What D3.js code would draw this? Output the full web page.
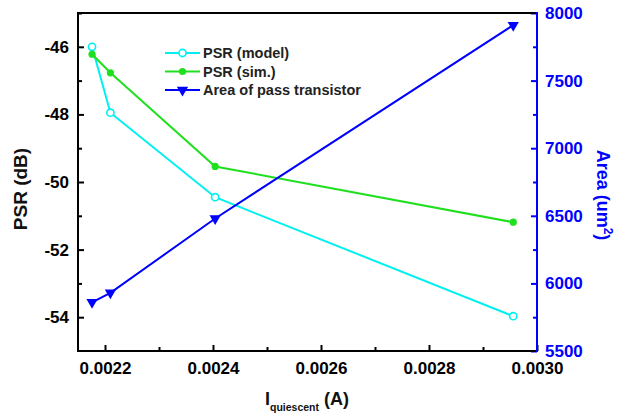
<!DOCTYPE html>
<html>
<head>
<meta charset="utf-8">
<script src="https://cdn.jsdelivr.net/npm/d3@7"></script>
<style>
  body { margin: 0; background: #fff; }
  svg text { font-family: Arial, "Liberation Sans", sans-serif; font-weight: bold; }
</style>
</head>
<body>
<svg id="chart" width="624" height="415"></svg>
<script>
// chart values
const current   = [0.002176, 0.00221, 0.002404, 0.002956];
const psrModel  = [-46.0, -47.95, -50.45, -53.97];
const psrSim    = [-46.22, -46.77, -49.54, -51.19];
const areaPass  = [5860, 5930, 6480, 7910];
const xTicks    = [0.0022, 0.0024, 0.0026, 0.0028, 0.0030];
const psrTicks  = [-54, -52, -50, -48, -46];
const areaTicks = [5500, 6000, 6500, 7000, 7500, 8000];
const legendNames = ["PSR (model)", "PSR (sim.)", "Area of pass transistor"];

const svg = d3.select("#chart");
const m = { left: 78, right: 537, top: 13, bottom: 351 };

const x  = d3.scaleLinear().domain([0.00215, 0.0030]).range([m.left, m.right]);
const yL = d3.scaleLinear().domain([-55, -45]).range([m.bottom, m.top]);
const yR = d3.scaleLinear().domain([5500, 8000]).range([m.bottom, m.top]);

const cyan = "#00f0f0", green = "#1ee01e", blue = "#0000ff";

// axes (ticks pointing inward)
function styleAxis(g, color) {
  g.select(".domain").remove();
  g.selectAll(".tick line").attr("stroke", color).attr("stroke-width", 2);
  g.selectAll(".tick text").attr("fill", color).style("font-size", "17px");
}

// minor ticks
const xMinor = d3.range(0.0023, 0.0030, 0.0002);
svg.append("g").attr("transform", `translate(0,${m.bottom})`)
  .call(d3.axisBottom(x).tickValues(xMinor).tickSize(-4).tickFormat(""))
  .call(g => styleAxis(g, "#000"));
svg.append("g").attr("transform", `translate(${m.left},0)`)
  .call(d3.axisLeft(yL).tickValues(d3.range(-53, -44, 2)).tickSize(-4).tickFormat(""))
  .call(g => styleAxis(g, "#000"));
svg.append("g").attr("transform", `translate(${m.right},0)`)
  .call(d3.axisRight(yR).tickValues(d3.range(5750, 8000, 500)).tickSize(-4).tickFormat(""))
  .call(g => styleAxis(g, blue));

svg.append("g").attr("transform", `translate(0,${m.bottom})`)
  .call(d3.axisBottom(x).tickValues(xTicks).tickSize(-6).tickPadding(10).tickFormat(d => d.toFixed(4)))
  .call(g => styleAxis(g, "#000"))
  .call(g => g.selectAll(".tick text").attr("dy", "0.75em"));
svg.append("g").attr("transform", `translate(${m.left},0)`)
  .call(d3.axisLeft(yL).tickValues(psrTicks).tickSize(-6).tickPadding(9).tickFormat(d => String(d)))
  .call(g => styleAxis(g, "#000"));
svg.append("g").attr("transform", `translate(${m.right},0)`)
  .call(d3.axisRight(yR).tickValues(areaTicks).tickSize(-6).tickPadding(8).tickFormat(d => String(d)))
  .call(g => styleAxis(g, blue));

// frame
svg.append("path")
  .attr("d", `M${m.right},${m.top}H${m.left}V${m.bottom}H${m.right}`)
  .attr("fill", "none").attr("stroke", "#000").attr("stroke-width", 2);
svg.append("line")
  .attr("x1", m.right).attr("x2", m.right).attr("y1", m.top - 1).attr("y2", m.bottom + 1)
  .attr("stroke", blue).attr("stroke-width", 2);

// series
const tri = d3.symbol().type(d3.symbolTriangle).size(55);
const series = [
  { vals: psrModel, y: yL, color: cyan, marker: "open" },
  { vals: psrSim,   y: yL, color: green, marker: "dot" },
  { vals: areaPass, y: yR, color: blue, marker: "tri" }
];

function drawMarker(g, px, py, s) {
  if (s.marker === "open") {
    g.append("circle").attr("cx", px).attr("cy", py).attr("r", 3.6)
      .attr("fill", "#fff").attr("stroke", s.color).attr("stroke-width", 1.6);
  } else if (s.marker === "dot") {
    g.append("circle").attr("cx", px).attr("cy", py).attr("r", 3.6).attr("fill", s.color);
  } else {
    g.append("path").attr("d", tri)
      .attr("transform", `translate(${px},${py}) rotate(180)`).attr("fill", s.color);
  }
}

series.forEach(s => {
  const line = d3.line().x((d, i) => x(current[i])).y(d => s.y(d));
  svg.append("path").datum(s.vals).attr("d", line)
    .attr("fill", "none").attr("stroke", s.color).attr("stroke-width", 2);
  const g = svg.append("g");
  s.vals.forEach((v, i) => drawMarker(g, x(current[i]), s.y(v), s));
});

// legend
const leg = svg.append("g");
series.forEach((s, i) => {
  const ly = 53 + i * 18.5;
  leg.append("line").attr("x1", 165).attr("x2", 200).attr("y1", ly).attr("y2", ly)
    .attr("stroke", s.color).attr("stroke-width", 2);
  drawMarker(leg, 182.5, ly, s);
  leg.append("text").attr("x", 203).attr("y", ly).attr("dy", "0.35em")
    .style("font-size", "14.5px").attr("fill", "#222").text(legendNames[i]);
});

// axis titles
svg.append("text")
  .attr("transform", `translate(27,189) rotate(-90)`)
  .attr("text-anchor", "middle").style("font-size", "19px").attr("fill", "#111")
  .text("PSR (dB)");

const rt = svg.append("text")
  .attr("transform", `translate(597,195) rotate(90)`)
  .attr("text-anchor", "middle").style("font-size", "18px").attr("fill", blue);
rt.append("tspan").text("Area (um");
rt.append("tspan").attr("dy", -7).style("font-size", "12px").text("2");
rt.append("tspan").attr("dy", 7).text(")");

const xt = svg.append("text")
  .attr("x", 307).attr("y", 405).attr("text-anchor", "middle")
  .style("font-size", "18px").attr("fill", "#111");
xt.append("tspan").text("I");
xt.append("tspan").attr("dy", 6).style("font-size", "10.5px").text("quiescent");
xt.append("tspan").attr("dy", -6).text(" (A)");
</script>
</body>
</html>
